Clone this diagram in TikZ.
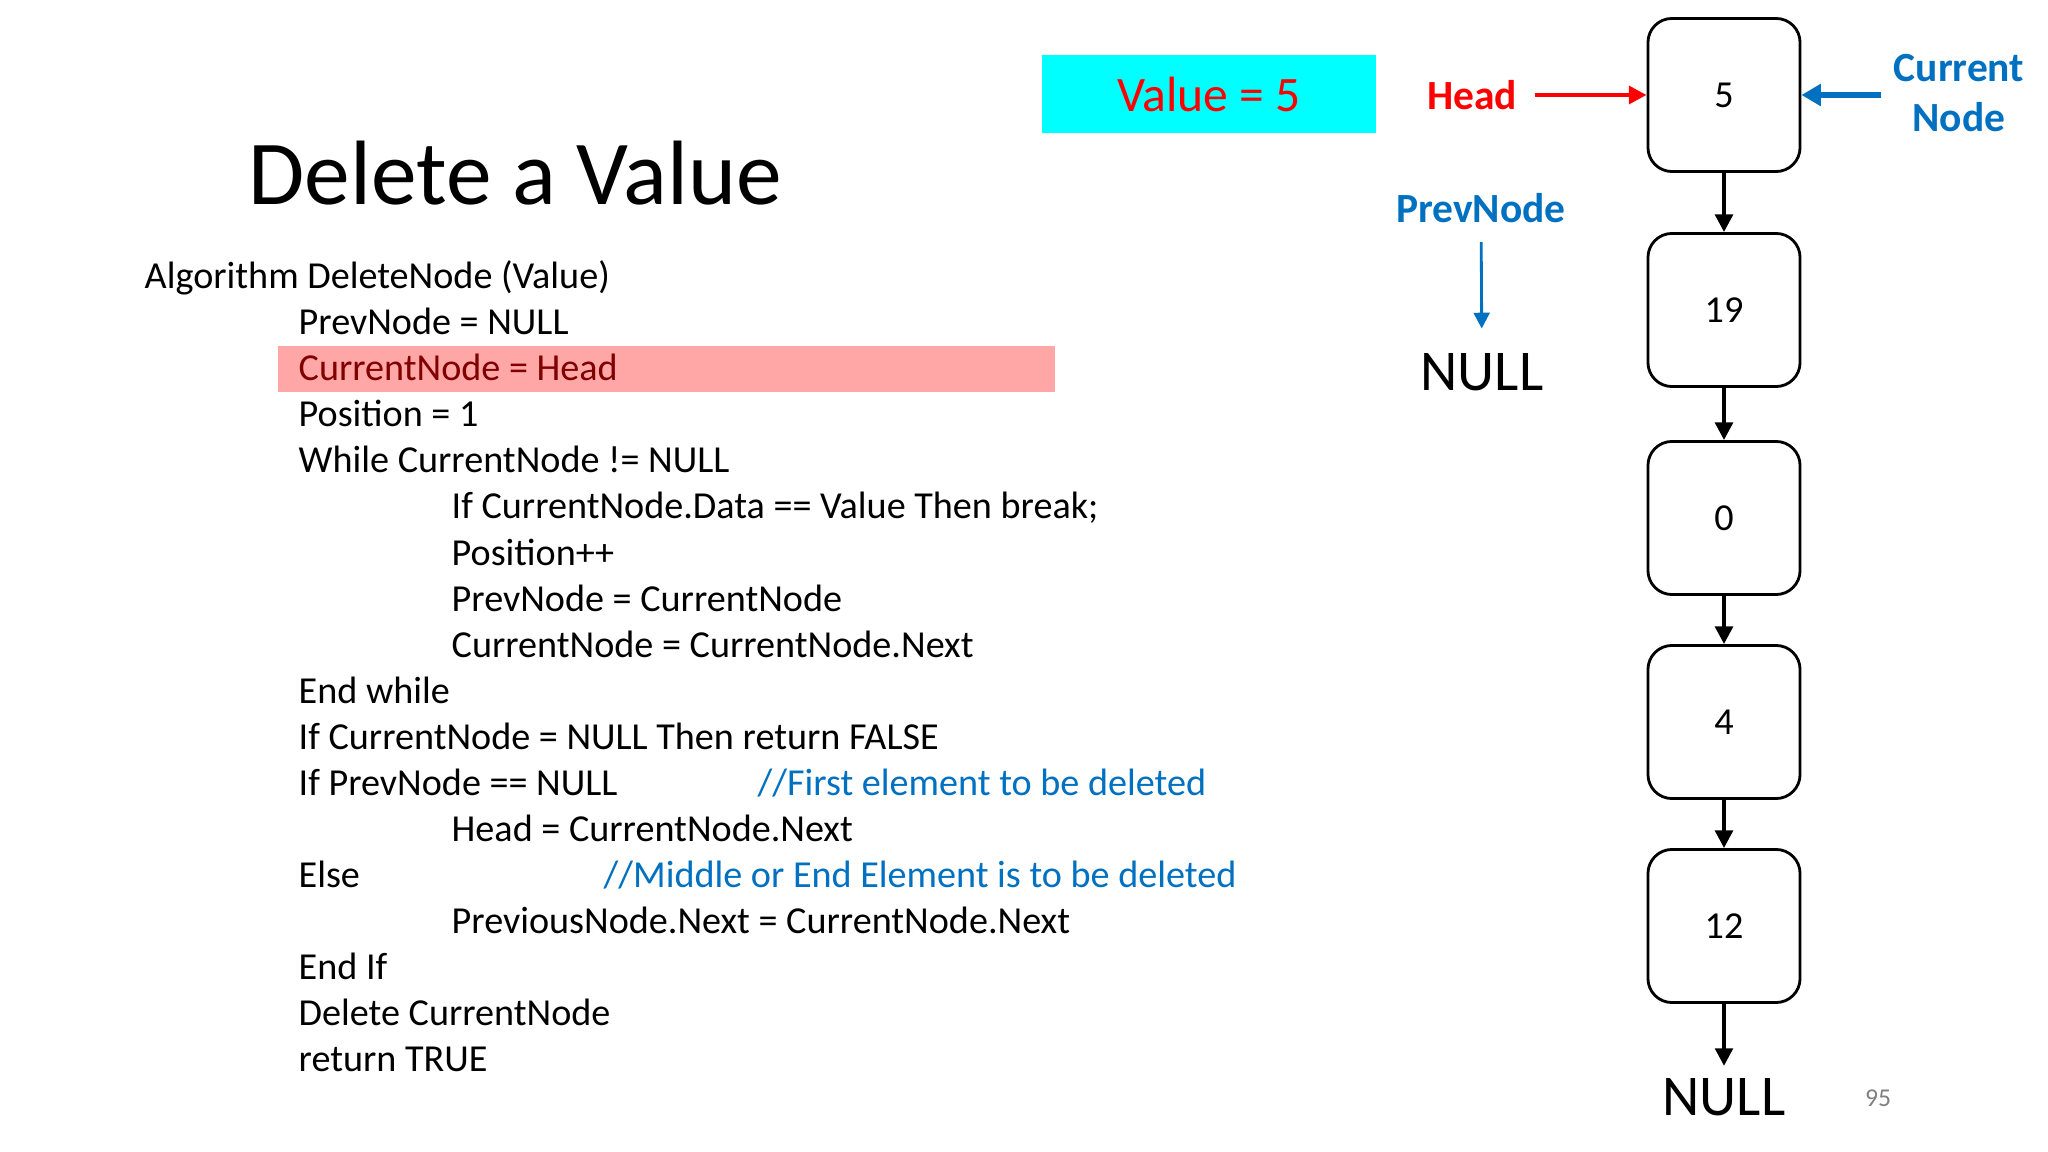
\documentclass[tikz,border=0pt]{standalone}
\usepackage{fontspec}
\setmainfont{Carlito}
\usetikzlibrary{arrows.meta,positioning}
\definecolor{hilite}{HTML}{FFA7A7}
\definecolor{cmtblue}{HTML}{0070C0}
\definecolor{codered}{HTML}{800000}
\definecolor{valcyan}{HTML}{00FFFF}
\newcommand{\codefont}{\fontsize{10.85}{13}\selectfont}

\begin{document}
\begin{tikzpicture}[x=0.01cm, y=-0.01cm,
    code/.style={anchor=base west, inner sep=0pt, font=\codefont},
    cmt/.style={code, text=cmtblue},
    listnode/.style={draw, line width=0.8pt, rounded corners=0.24cm,
        minimum width=1.52cm, minimum height=1.53cm, font=\codefont},
    link/.style={-{Triangle[length=5pt,width=5pt]}, line width=1.1pt},
    label/.style={font=\fontsize{11.8}{14}\selectfont\bfseries, align=center}]
    \useasboundingbox (0, 0) rectangle (2048, 1152);

    % title and value
    \node[anchor=base west, inner sep=0pt, font=\fontsize{26}{31}\selectfont] (title) at (248, 205) {Delete a Value};
    \node[fill=valcyan, minimum width=3.33cm, minimum height=0.77cm, text=red,
        font=\fontsize{14.1}{17}\selectfont] (value) at (1209, 94) {Value = 5};

    % algorithm
    \fill[hilite] (278, 346) rectangle (1055, 392);
    \node[code] (l0) at (144, 289) {Algorithm DeleteNode (Value)};
    \node[code] (l1) at (298, 335) {PrevNode = NULL};
    \node[code, text=codered] (l2) at (298, 381) {CurrentNode = Head};
    \node[code] (l3) at (298, 427) {Position = 1};
    \node[code] (l4) at (298, 473) {While CurrentNode != NULL};
    \node[code] (l5) at (451, 519) {If CurrentNode.Data == Value Then break;};
    \node[code] (l6) at (451, 565) {Position++};
    \node[code] (l7) at (451, 611) {PrevNode = CurrentNode};
    \node[code] (l8) at (451, 657) {CurrentNode = CurrentNode.Next};
    \node[code] (l9) at (298, 703) {End while};
    \node[code] (l10) at (298, 749) {If CurrentNode = NULL Then return FALSE};
    \node[code] (l11) at (298, 795) {If PrevNode == NULL};
    \node[cmt] (c11) at (757, 795) {//First element to be deleted};
    \node[code] (l12) at (451, 841) {Head = CurrentNode.Next};
    \node[code] (l13) at (298, 887) {Else};
    \node[cmt] (c13) at (603, 887) {//Middle or End Element is to be deleted};
    \node[code] (l14) at (451, 933) {PreviousNode.Next = CurrentNode.Next};
    \node[code] (l15) at (298, 979) {End If};
    \node[code] (l16) at (298, 1025) {Delete CurrentNode};
    \node[code] (l17) at (298, 1071) {return TRUE};

    % linked list
    \node[listnode] (n1) at (1724, 95) {5};
    \node[listnode] (n2) at (1724, 310) {19};
    \node[listnode] (n3) at (1724, 518) {0};
    \node[listnode] (n4) at (1724, 722) {4};
    \node[listnode] (n5) at (1724, 926) {12};
    \node[font=\fontsize{16.4}{20}\selectfont] (nullb) at (1724, 1097) {NULL};

    % pointers
    \node[label, text=red] (head) at (1472, 95) {Head};
    \node[label, text=cmtblue] (cur) at (1959, 93) {Current\\Node};
    \node[label, text=cmtblue] (prev) at (1481, 208) {PrevNode};
    \node[font=\fontsize{16.4}{20}\selectfont] (nulla) at (1482, 372) {NULL};
    \node[text=gray, font=\fontsize{7.3}{9}\selectfont] (page) at (1878, 1098) {95};

    \draw[link] (n1) -- (n2);
    \draw[link] (n2) -- (n3);
    \draw[link] (n3) -- (n4);
    \draw[link] (n4) -- (n5);
    \draw[link] (n5) -- (nullb);
    \draw[link, red, line width=1.2pt, shorten <=1.5pt] (head) -- (n1);
    \draw[link, cmtblue, line width=1.5pt, -{Triangle[length=5.5pt,width=6pt]}] (cur.west |- n1) -- (n1);
    \draw[cmtblue, line width=0.8pt, -{Triangle[length=4.5pt,width=4.5pt]}, shorten <=2pt, shorten >=3.5pt] (prev) -- (nulla);
\end{tikzpicture}
\end{document}
